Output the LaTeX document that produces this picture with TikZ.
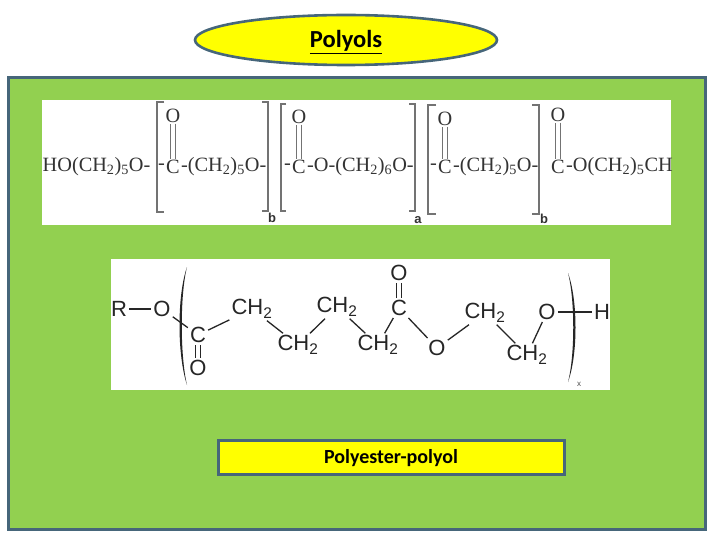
\documentclass[tikz,border=0pt]{standalone}
\usepackage{fontspec}
\setmainfont{Carlito}
\newfontfamily\serifchem{Liberation Serif}
\newfontfamily\sanschem{Liberation Sans}
\usepackage{xcolor}
\usetikzlibrary{positioning, calc, shapes}
\definecolor{panelgreen}{HTML}{92D050}
\definecolor{edgeblue}{HTML}{46667A}
\definecolor{boxyellow}{HTML}{FFFF00}
\tikzset{titlebox/.style={draw=edgeblue, line width=2.6pt, fill=boxyellow, inner sep=0pt, text=black}}
\tikzset{whitebox/.style={fill=white, inner sep=0pt}}
\tikzset{serifatom/.style={inner sep=0.5pt, text=black!80, font=\serifchem\fontsize{20.3}{21}\selectfont}}
\tikzset{sansatom/.style={inner sep=2pt, text=black!85, font=\sanschem\fontsize{22}{22}\selectfont}}
\tikzset{bond/.style={draw=black!85, line width=1.3pt}}
\tikzset{dblbond/.style={draw=black!55, double=white, line width=1.2pt, double distance=4.5pt}}
\tikzset{brack/.style={draw=black!55, line width=2pt}}
\tikzset{parenfill/.style={fill=black!85}}
\tikzset{indexlabel/.style={inner sep=0pt, text=black!80, font=\sanschem\bfseries\fontsize{13}{13}\selectfont}}
\newcommand{\chtwo}{CH\textsubscript{2}}
\newcommand{\chain}[1]{(CH\textsubscript{2})\textsubscript{#1}}
\begin{document}
\begin{tikzpicture}[x=1pt, y=-1pt]
      \useasboundingbox (0,0) rectangle (720,540);
      \node[draw=edgeblue, line width=3pt, fill=panelgreen, minimum width=697pt, minimum height=452pt] (panel) at (357,303.5) {};
      \node[titlebox, ellipse, minimum width=302pt, minimum height=50pt] (title) at (346,40) {};
      \node[inner sep=0pt] (titletext) at (346,42) {\bfseries\fontsize{24.5}{25}\selectfont\underline{Polyols}};
      \node[whitebox, minimum width=629pt, minimum height=125pt] (top) at (356.5,162.5) {};
      \node[whitebox, minimum width=499pt, minimum height=131pt] (mid) at (360.5,324.5) {};
      \node[titlebox, minimum width=346pt, minimum height=34pt] (caption) at (391.5,457.5) {};
      \node[inner sep=0pt] (captiontext) at (391,458.5) {\bfseries\fontsize{20}{20}\selectfont Polyester-polyol};

      \node[serifatom, anchor=west] (s0) at (42,167) {HO\chain{5}O-};
      \node[serifatom] (c1) at (173,167) {C};
      \node[serifatom] (o1) at (173,116) {O};
      \node[serifatom, anchor=east] (d1) at (c1.west) {-};
      \node[serifatom, anchor=west] (s1) at (c1.east) {-\chain{5}O-};
      \node[serifatom] (c2) at (299,167) {C};
      \node[serifatom] (o2) at (299,117) {O};
      \node[serifatom, anchor=east] (d2) at (c2.west) {-};
      \node[serifatom, anchor=west] (s2) at (c2.east) {-O-\chain{6}O-};
      \node[serifatom] (c3) at (445,167) {C};
      \node[serifatom] (o3) at (445,119) {O};
      \node[serifatom, anchor=east] (d3) at (c3.west) {-};
      \node[serifatom, anchor=west] (s3) at (c3.east) {-\chain{5}O-};
      \node[serifatom] (c4) at (558,167) {C};
      \node[serifatom] (o4) at (558,115) {O};
      \node[serifatom, anchor=west] (s4) at (c4.east) {-O\chain{5}CH};
      \draw[dblbond] (o1) -- (c1);
      \draw[dblbond] (o2) -- (c2);
      \draw[dblbond] (o3) -- (c3);
      \draw[dblbond] (o4) -- (c4);

      \draw[brack] (164,102) -- (157,102) -- (157,212) -- (164,212);
      \draw[brack] (262,102) -- (268,102) -- (268,211) -- (262,211);
      \draw[brack] (286,104) -- (281,104) -- (281,211) -- (286,211);
      \draw[brack] (409,104) -- (415,104) -- (415,211) -- (409,211);
      \draw[brack] (436,105) -- (428,105) -- (428,214) -- (436,214);
      \draw[brack] (532,105) -- (539,105) -- (539,214) -- (532,214);
      \node[indexlabel] (b1) at (272,218) {b};
      \node[indexlabel] (a1) at (418,220) {a};
      \node[indexlabel] (b2) at (544,219) {b};

      \node[sansatom] (r) at (119,309) {R};
      \node[sansatom] (o5) at (162,309) {O};
      \node[sansatom] (c5) at (198,335) {C};
      \node[sansatom] (o6) at (198,368) {O};
      \node[sansatom] (m1) at (252,309) {\chtwo};
      \node[sansatom] (m2) at (298,345) {\chtwo};
      \node[sansatom] (m3) at (337,307) {\chtwo};
      \node[sansatom] (m4) at (378,345) {\chtwo};
      \node[sansatom] (c6) at (399,308) {C};
      \node[sansatom] (o7) at (399,273) {O};
      \node[sansatom] (o8) at (437,348) {O};
      \node[sansatom] (m5) at (485,313) {\chtwo};
      \node[sansatom] (m6) at (527,355) {\chtwo};
      \node[sansatom] (o9) at (547,312) {O};
      \node[sansatom] (h) at (602,312) {H};
      \draw[bond] (r) -- (o5);
      \draw[bond] (o5) -- (c5);
      \draw[bond, double=white, double distance=3.5pt, line width=0.9pt] (c5) -- (o6);
      \draw[bond] (c5) -- (m1);
      \draw[bond] (m1) -- (m2);
      \draw[bond] (m2) -- (m3);
      \draw[bond] (m3) -- (m4);
      \draw[bond] (m4) -- (c6);
      \draw[bond, double=white, double distance=3.5pt, line width=0.9pt] (c6) -- (o7);
      \draw[bond] (c6) -- (o8);
      \draw[bond] (o8) -- (m5);
      \draw[bond] (m5) -- (m6);
      \draw[bond] (m6) -- (o9);
      \draw[bond] (o9) -- (h);

      \fill[parenfill] (187,267) .. controls (177,295) and (177,355) .. (187,385) .. controls (180,355) and (180,295) .. (187,267);
      \fill[parenfill] (568,273) .. controls (578,300) and (578,355) .. (568,382) .. controls (575,355) and (575,300) .. (568,273);
      \node[inner sep=0pt, text=black!70, font=\sanschem\fontsize{8}{8}\selectfont] (x) at (579,384) {x};
    \end{tikzpicture}
\end{document}
